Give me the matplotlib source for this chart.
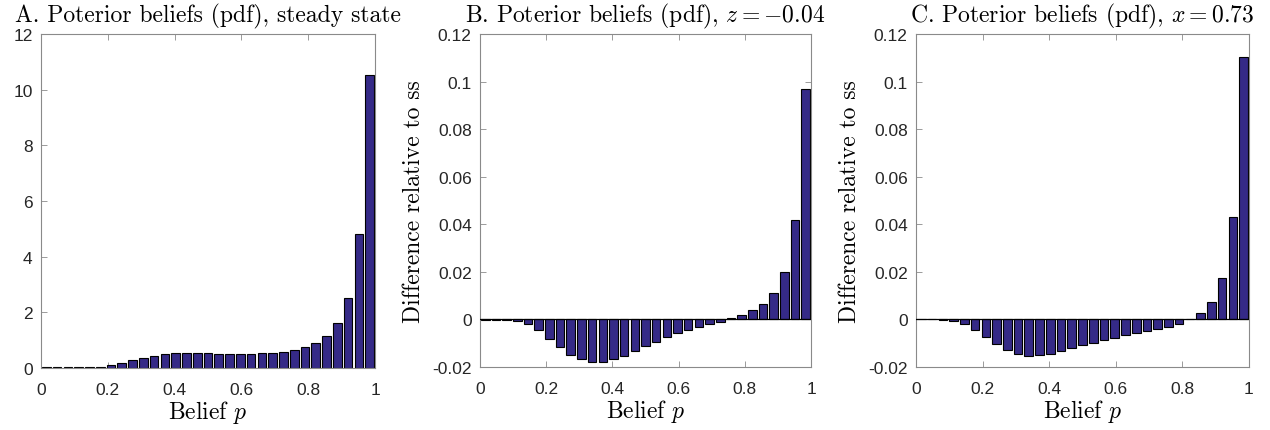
import numpy as np
import matplotlib
matplotlib.use("Agg")
import matplotlib.pyplot as plt

plt.rcParams["mathtext.fontset"] = "cm"
plt.rcParams["axes.unicode_minus"] = False

# Belief grid: 31 equal bins on [0, 1]
n_bins = 31
belief = (np.arange(n_bins) + 0.5) / n_bins

# A. steady-state posterior pdf
pdf_ss = [0.02, 0.02, 0.02, 0.02, 0.02, 0.05, 0.11, 0.19, 0.28, 0.37,
          0.44, 0.51, 0.54, 0.54, 0.54, 0.54, 0.52, 0.51, 0.51, 0.51,
          0.53, 0.55, 0.59, 0.66, 0.75, 0.90, 1.16, 1.60, 2.53, 4.80,
          10.53]

# B. difference relative to steady state, z = -0.04
diff_z = [-0.0001, -0.0002, -0.0003, -0.0006, -0.0021, -0.0046, -0.0082,
          -0.0118, -0.0148, -0.0168, -0.0178, -0.0178, -0.0168, -0.0153,
          -0.0133, -0.0113, -0.0093, -0.0075, -0.0058, -0.0046, -0.0033,
          -0.0021, -0.0011, 0.0006, 0.0020, 0.0038, 0.0066, 0.0112,
          0.0200, 0.0420, 0.0970]

# C. difference relative to steady state, x = 0.73
diff_x = [0.0000, 0.0000, -0.0001, -0.0005, -0.0021, -0.0043, -0.0074,
          -0.0105, -0.0130, -0.0146, -0.0152, -0.0151, -0.0144, -0.0133,
          -0.0122, -0.0109, -0.0097, -0.0087, -0.0076, -0.0067, -0.0057,
          -0.0049, -0.0041, -0.0032, -0.0020, 0.0001, 0.0026, 0.0074,
          0.0175, 0.0431, 0.1103]

titles = ["A. Poterior beliefs (pdf), steady state",
          "B. Poterior beliefs (pdf), $z = -0.04$",
          "C. Poterior beliefs (pdf), $x = 0.73$"]

x_ticks = [0, 0.2, 0.4, 0.6, 0.8, 1]
x_tick_labels = ["0", "0.2", "0.4", "0.6", "0.8", "1"]
pdf_ticks = [0, 2, 4, 6, 8, 10, 12]
pdf_tick_labels = ["0", "2", "4", "6", "8", "10", "12"]
diff_ticks = [-0.02, 0, 0.02, 0.04, 0.06, 0.08, 0.1, 0.12]
diff_tick_labels = ["-0.02", "0", "0.02", "0.04", "0.06", "0.08", "0.1", "0.12"]

bar_color = "#352a87"
axis_color = "#8a8a8a"
tick_color = "#262626"
serif = "cmr10"
label_size = 17

fig = plt.figure(figsize=(12.7, 4.31), dpi=100)
positions = [
    [41 / 1270, 62 / 431, 334 / 1270, 334 / 431],
    [480 / 1270, 63 / 431, 331 / 1270, 333 / 431],
    [916 / 1270, 63 / 431, 333 / 1270, 333 / 431],
]
series = [pdf_ss, diff_z, diff_x]

for k, (pos, vals, title) in enumerate(zip(positions, series, titles)):
    ax = fig.add_axes(pos)
    ax.bar(belief, vals, width=0.8 / n_bins, color=bar_color,
           edgecolor="black", linewidth=0.8, zorder=2)
    ax.set_xlim(0, 1)
    ax.set_xticks(x_ticks)
    ax.set_xticklabels(x_tick_labels)
    if k == 0:
        ax.set_ylim(0, 12)
        ax.set_yticks(pdf_ticks)
        ax.set_yticklabels(pdf_tick_labels)
    else:
        ax.set_ylim(-0.02, 0.12)
        ax.set_yticks(diff_ticks)
        ax.set_yticklabels(diff_tick_labels)
        ax.axhline(0, color="black", linewidth=0.9, zorder=3)
        ax.set_ylabel("Difference relative to ss", family=serif,
                      fontsize=label_size, labelpad=5)
    ax.set_xlabel("Belief $p$", family=serif, fontsize=label_size, labelpad=1)
    ax.set_title(title, family=serif, fontsize=label_size, pad=9)
    ax.tick_params(direction="in", top=True, right=True, length=4,
                   width=0.6, color=axis_color, labelcolor=tick_color,
                   labelsize=12.5)
    ax.tick_params(axis="x", pad=10)
    ax.tick_params(axis="y", pad=6)
    for sp in ax.spines.values():
        sp.set_color(axis_color)
        sp.set_linewidth(0.8)
    for lbl in ax.get_xticklabels() + ax.get_yticklabels():
        lbl.set_family("Liberation Sans")

fig.savefig("out.png", dpi=100)
